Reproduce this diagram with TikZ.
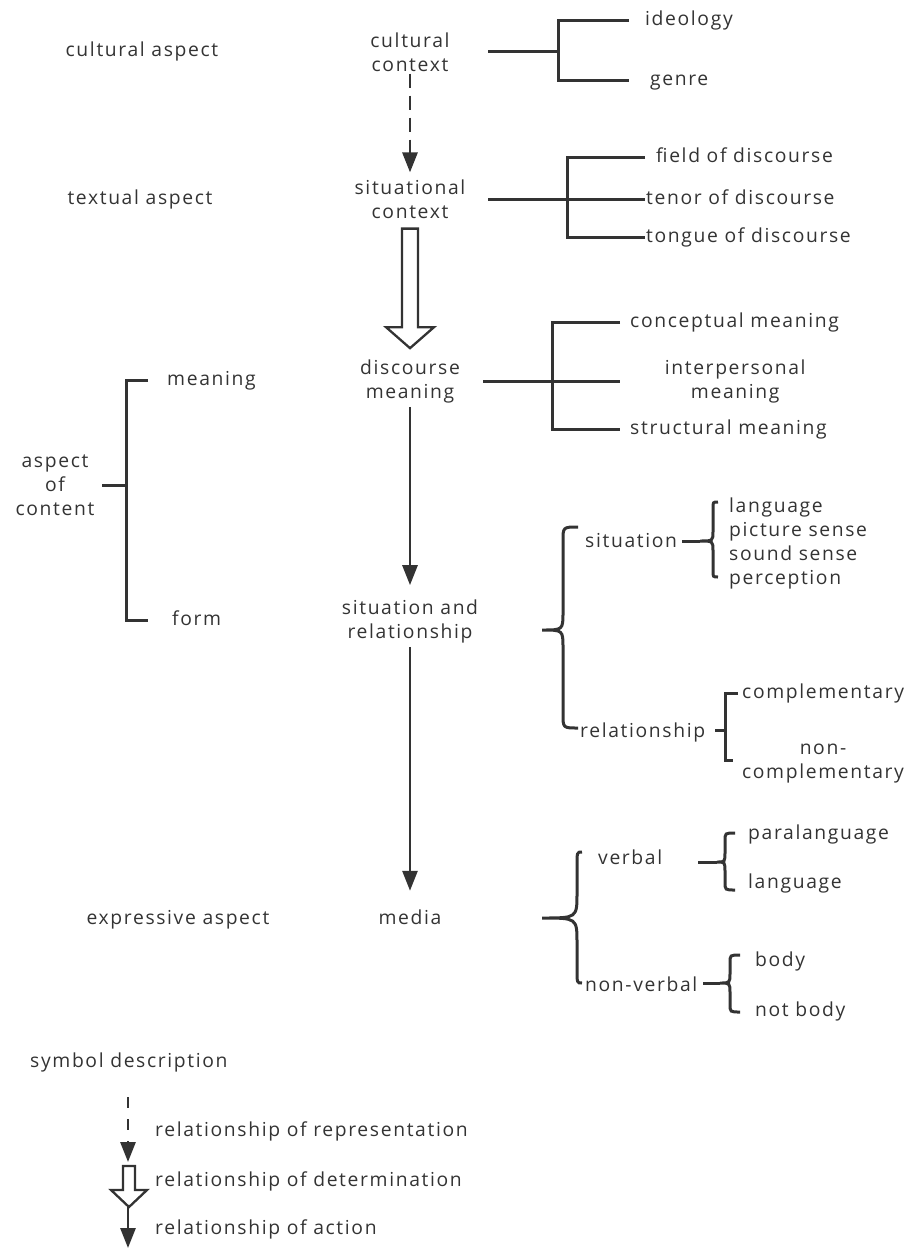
\documentclass[tikz,border=0pt]{standalone}
\usepackage{fontspec}
\setmainfont{Open Sans}[LetterSpace=8.5]
\usetikzlibrary{arrows.meta,calc}
\definecolor{lc}{HTML}{333333}
\definecolor{tx}{HTML}{333333}
\newcommand\cbrace[8]{\draw[ln] (#6,#4) .. controls (#3,#4) .. (#3,#4+#7) -- (#3,#2-#8) .. controls (#3,#2) .. (#1,#2) .. controls (#3,#2) .. (#3,#2+#8) -- (#3,#5-#7) .. controls (#3,#5) .. (#6,#5);}
\newcommand\openarr[5]{\draw[oarr] ([xshift=-#3]#1) -- ([xshift=#3]#1) -- ([shift={(#3,#5)}]#2) -- ([shift={(#4,#5)}]#2) -- (#2) -- ([shift={(-#4,#5)}]#2) -- ([shift={(-#3,#5)}]#2) -- cycle;}
\begin{document}
\begin{tikzpicture}[x=1pt,y=-1pt,
  t/.style={font=\fontsize{19.3}{24}\selectfont, text=tx, inner sep=0pt, align=center},
  tl/.style={t, text height=10pt, text depth=0pt},
  ln/.style={draw=lc, line width=3pt},
  arr/.style={draw=lc, line width=2.8pt, -{Triangle[length=20pt,width=15pt]}},
  darr/.style={arr, dash pattern=on 14pt off 8pt},
  oarr/.style={draw=lc, line width=2.3pt, fill=white, line join=miter},
]
\useasboundingbox (0,0) rectangle (903,1248);
% cultural
\node[tl] (ca) at (142,51) {cultural aspect};
\node[t, minimum width=156pt] (cc) at (410,52) {cultural\\context};
\node[tl, anchor=west, inner xsep=16pt] (ideo) at (629,20) {ideology};
\node[tl, anchor=west, inner xsep=21pt] (genre) at (629,80) {genre};
\coordinate (j1) at (558,51);
\draw[ln] (cc.east |- j1) -- (j1);
\draw[ln] (ideo.west) -| (j1) |- (genre.west);
% situational
\node[tl] (ta) at (140,199) {textual aspect};
\node[t, minimum width=156pt] (sc) at (410,199) {situational\\context};
\node[tl, anchor=west, inner xsep=11pt] (field) at (645,157) {field of discourse};
\node[tl, anchor=west, inner xsep=1pt] (tenor) at (645,199) {tenor of discourse};
\node[tl, anchor=west, inner xsep=1pt] (tongue) at (645,237) {tongue of discourse};
\coordinate (j2) at (567,199);
\draw[ln] (sc.east) -- (tenor.west);
\draw[ln] (field.west) -| (j2) |- (tongue.west);
% discourse meaning
\node[t, minimum width=146pt] (dm) at (410,381) {discourse\\meaning};
\node[tl, anchor=west, inner xsep=10pt] (concept) at (620,322) {conceptual meaning};
\node[t, anchor=west, minimum width=230pt] (inter) at (620,381) {interpersonal\\meaning};
\node[tl, anchor=west, inner xsep=10pt] (struct) at (620,429) {structural meaning};
\coordinate (j3) at (552,381);
\draw[ln] (dm.east) -- (inter.west);
\draw[ln] (concept.west) -| (j3) |- (struct.west);
% aspect of content
\node[t, minimum width=94pt] (aoc) at (55,485) {aspect\\of\\content};
\node[tl, anchor=west, inner xsep=19pt] (meaning) at (148,380) {meaning};
\node[tl, anchor=west, inner xsep=24pt] (form) at (148,620) {form};
\coordinate (j4) at (126,485);
\draw[ln] (aoc.east) -- (j4);
\draw[ln] (meaning.west) -| (j4) |- (form.west);
% situation and relationship
\node[t] (sr) at (410,621) {situation and\\relationship};
\node[tl, anchor=west] (sit) at (585,542) {situation};
\node[tl, anchor=west] (rel) at (580,732) {relationship};
\cbrace{542}{630}{563}{527}{728}{578}{14}{18}
\node[t, align=left, anchor=west] (sitlist) at (729,543) {language\\picture sense\\sound sense\\perception};
\coordinate (bs1) at (682,541);
\coordinate (bt1) at (700,541);
\draw[ln] (bs1) -- (bt1);
\cbrace{700}{541}{713}{502}{577}{718}{6}{10}
\node[tl, anchor=west, inner xsep=4pt] (compl) at (738,693) {complementary};
\node[t] (noncompl) at (823,764) {non-\\complementary};
\coordinate (rs) at (715,730);
\coordinate (j5) at (725,730);
\coordinate (cb) at (733,760);
\draw[ln] (rs) -- (j5);
\draw[ln] (compl.west) -| (j5) |- (cb);
% media
\node[tl] (media) at (410,919) {media};
\node[tl] (ea) at (178,919) {expressive aspect};
\cbrace{542}{918}{577}{852}{983}{582}{14}{25}
\node[tl, anchor=west] (verbal) at (598,859) {verbal};
\node[tl, anchor=west] (nonverbal) at (585,986) {non-verbal};
\coordinate (vs) at (698,862);
\coordinate (vt) at (717,862);
\draw[ln] (vs) -- (vt);
\cbrace{717}{862}{725}{833}{890}{735}{8}{10}
\node[tl, anchor=west] (para) at (748,834) {paralanguage};
\node[tl, anchor=west] (lang) at (748,883) {language};
\coordinate (ns) at (703,983);
\coordinate (nt) at (720,983);
\draw[ln] (ns) -- (nt);
\cbrace{720}{983}{730}{955}{1012}{740}{8}{10}
\node[tl, anchor=west] (body) at (755,961) {body};
\node[tl, anchor=west] (notbody) at (755,1011) {not body};
% main arrows
\draw[darr] ([yshift=-2pt]cc.south) -- ([yshift=7pt]sc.north);
\coordinate (o1s) at ([yshift=-10pt]sc.south);
\coordinate (o1e) at ([yshift=11pt]dm.north);
\openarr{o1s}{o1e}{8pt}{24pt}{21pt}
\draw[arr] ([yshift=-4pt]dm.south) -- ([yshift=14pt]sr.north);
\draw[arr] ([yshift=-4pt]sr.south) -- ([yshift=23pt]media.north);
% legend
\node[tl, anchor=west] (symd) at (30,1062) {symbol description};
\node[tl, anchor=west] (l1) at (155,1131) {relationship of representation};
\node[tl, anchor=west] (l2) at (155,1181) {relationship of determination};
\node[tl, anchor=west] (l3) at (155,1229) {relationship of action};
\coordinate (la1) at (128,1097);
\coordinate (la2) at (128,1162);
\draw[darr, dash pattern=on 11pt off 11pt] (la1) -- (la2);
\coordinate (lb1) at (129,1166);
\coordinate (lb2) at (129,1207);
\openarr{lb1}{lb2}{6pt}{18pt}{17pt}
\coordinate (lc1) at (128,1207);
\coordinate (lc2) at (128,1248);
\draw[arr] (lc1) -- (lc2);
\end{tikzpicture}
\end{document}
